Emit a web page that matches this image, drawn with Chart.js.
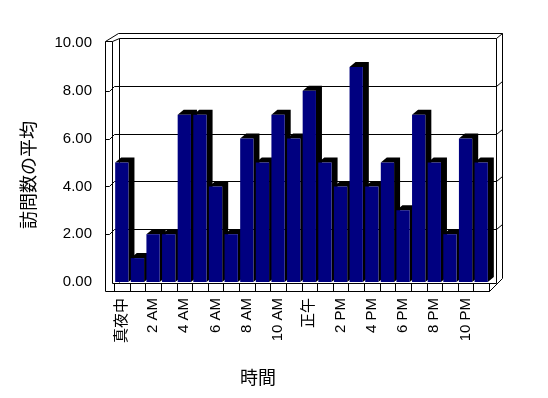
<!DOCTYPE html>
<html>
<head>
<meta charset="utf-8">
<script src="https://cdn.jsdelivr.net/npm/chart.js@4"></script>
<style>
body { margin: 0; background: #fff; }
#wrap { width: 548px; height: 398px; }
</style>
</head>
<body>
<div id="wrap"><canvas id="visitsChart" width="548" height="398"></canvas></div>
<script>
// one category per hour, only every other one gets a tick label
const hours = ['真夜中', '1 AM', '2 AM', '3 AM', '4 AM', '5 AM', '6 AM', '7 AM', '8 AM', '9 AM', '10 AM', '11 AM',
    '正午', '1 PM', '2 PM', '3 PM', '4 PM', '5 PM', '6 PM', '7 PM', '8 PM', '9 PM', '10 PM', '11 PM'];
const visits = [5, 1, 2, 2, 7, 7, 4, 2, 6, 5, 7, 6, 8, 5, 4, 9, 4, 5, 3, 7, 5, 2, 6, 5];
const yTicks = [0, 2, 4, 6, 8, 10];
const yTitle = '訪問数の平均';
const xTitle = '時間';

const latinFont = '"Liberation Sans", "Noto Sans CJK JP", sans-serif';
const cjkFont = '"Noto Sans CJK JP", sans-serif';
const depthX = 6, depthY = 5;

function line(ctx, pts) {
    ctx.beginPath();
    ctx.moveTo(pts[0][0], pts[0][1]);
    for (let i = 1; i < pts.length; i++) ctx.lineTo(pts[i][0], pts[i][1]);
    ctx.stroke();
}

// Excel-like 3D box: walls, floor, gridlines, plus the black side/top of every bar
const box3d = {
    id: 'box3d',
    beforeDatasetsDraw(chart) {
        const ctx = chart.ctx;
        const { left: L, right: R, top: T, bottom: B } = chart.chartArea;
        const y = chart.scales.y;
        const x = chart.scales.x;
        ctx.save();
        ctx.strokeStyle = '#000';
        ctx.lineWidth = 1;
        ctx.translate(0.5, 0.5);

        // left wall
        line(ctx, [[L - 9, B + 9], [L - 9, T - 2], [L - 2, T - 2], [L - 2, B + 1]]);
        line(ctx, [[L - 9, T - 2], [L + 4, T - 10]]);
        line(ctx, [[L - 2, T - 2], [L + 5, T - 5]]);
        // back wall
        line(ctx, [[L + 4, T - 10], [R + 13, T - 10], [R + 13, B - 4]]);
        line(ctx, [[L + 5, B], [L + 5, T - 5], [R + 7, T - 5], [R + 7, B + 1]]);
        line(ctx, [[R + 7, T - 5], [R + 13, T - 10]]);
        // floor
        line(ctx, [[L - 9, B + 9], [R, B + 9], [R + 13, B - 4]]);
        line(ctx, [[L - 2, B + 1], [R + 7, B + 1]]);
        line(ctx, [[R, B + 1], [R, B + 9]]);
        const n = chart.data.labels.length;
        for (let i = 0; i <= n; i++) {
            const cx = Math.round(L + (R - L) * i / n);
            line(ctx, [[cx, B + 1], [cx, B + 9]]);
        }
        // gridlines: front edge tick, slanted across the left wall, flat on the back wall
        yTicks.forEach(v => {
            if (v === 0 || v === yTicks[yTicks.length - 1]) return;
            const yy = Math.round(y.getPixelForValue(v));
            line(ctx, [[L - 9, yy], [L - 5, yy], [L, yy - 5], [R + 7, yy - 5], [R + 13, yy - 10]]);
        });
        ctx.restore();

        // bar extrusions, drawn before the fronts so the next bar covers them
        ctx.save();
        ctx.fillStyle = '#000';
        chart.getDatasetMeta(0).data.forEach(bar => {
            const p = bar.getProps(['x', 'y', 'base', 'width'], true);
            const x0 = p.x - p.width / 2, x1 = p.x + p.width / 2;
            ctx.beginPath();
            ctx.moveTo(x0, p.y);
            ctx.lineTo(x0 + depthX, p.y - depthY);
            ctx.lineTo(x1 + depthX, p.y - depthY);
            ctx.lineTo(x1 + depthX, p.base - depthY);
            ctx.lineTo(x1, p.base);
            ctx.lineTo(x1, p.y);
            ctx.closePath();
            ctx.fill();
        });
        ctx.restore();
    },
    afterDraw(chart) {
        const ctx = chart.ctx;
        ctx.save();
        ctx.fillStyle = '#000';
        ctx.font = '18px ' + cjkFont;
        ctx.textAlign = 'center';
        ctx.textBaseline = 'middle';
        ctx.save();
        ctx.translate(28, 175);
        ctx.rotate(-Math.PI / 2);
        ctx.fillText(yTitle, 0, 0);
        ctx.restore();
        ctx.fillText(xTitle, 258, 377);
        ctx.restore();
    }
};

Chart.defaults.color = '#000';

new Chart(document.getElementById('visitsChart').getContext('2d'), {
    type: 'bar',
    data: {
        labels: hours,
        datasets: [{
            label: yTitle,
            data: visits,
            backgroundColor: '#000080',
            borderWidth: 0,
            categoryPercentage: 1,
            barPercentage: 0.85
        }]
    },
    options: {
        responsive: false,
        animation: false,
        layout: { padding: { left: 0, right: 59, top: 43, bottom: 0 } },
        plugins: {
            legend: { display: false },
            tooltip: { enabled: false }
        },
        scales: {
            x: {
                grid: { display: false, drawTicks: false },
                border: { display: false },
                ticks: {
                    autoSkip: false,
                    minRotation: 90,
                    maxRotation: 90,
                    padding: 16,
                    font: { family: latinFont, size: 15 },
                    callback: (v, i) => (i % 2 === 0 ? hours[i] : '')
                },
                afterFit: s => { s.height = 116; }
            },
            y: {
                min: yTicks[0],
                max: yTicks[yTicks.length - 1],
                grid: { display: false, drawTicks: false },
                border: { display: false },
                ticks: {
                    stepSize: 2,
                    padding: 22,
                    font: { family: latinFont, size: 15 },
                    callback: v => v.toFixed(2)
                },
                afterFit: s => { s.width = 114; }
            }
        }
    },
    plugins: [box3d]
});
</script>
</body>
</html>
